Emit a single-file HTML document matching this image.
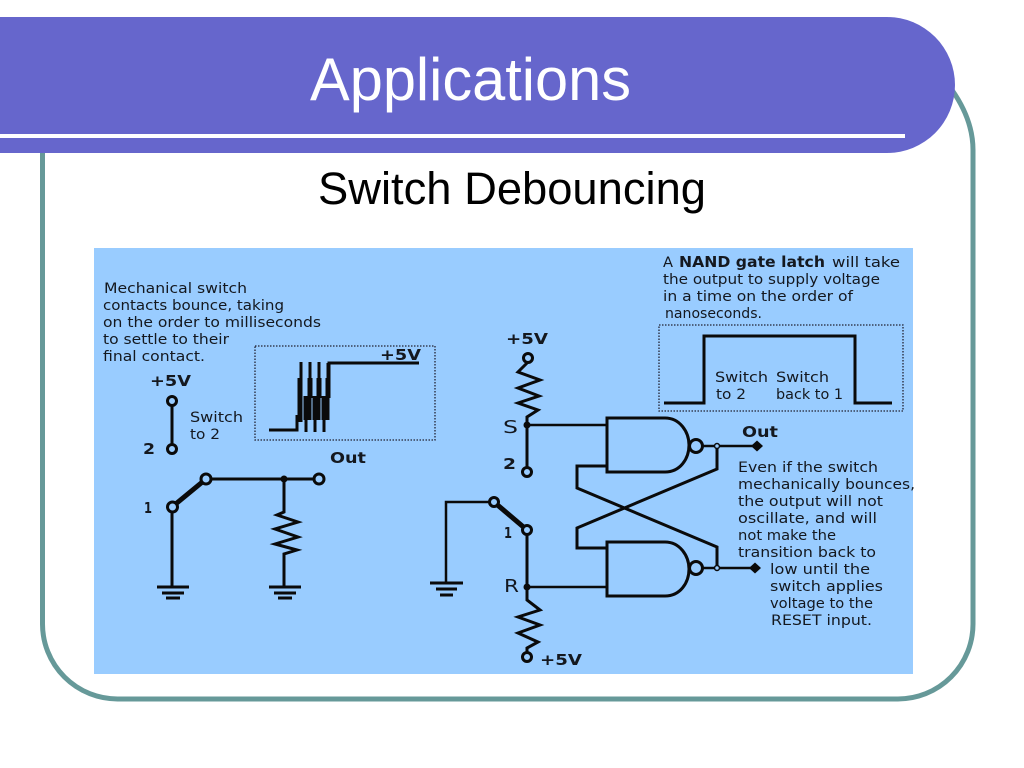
<!DOCTYPE html>
<html><head><meta charset="utf-8"><style>
html,body{margin:0;padding:0;background:#fff}
svg{display:block}
.t{font:14px "DejaVu Sans",sans-serif;fill:#14181f}
.b{font:bold 15px "DejaVu Sans",sans-serif;fill:#14181f}
.w{fill:none;stroke:#0a0a0a;stroke-width:2.5}
.k{fill:none;stroke:#0a0a0a;stroke-width:3}
.c{fill:#99ccff;stroke:#0a0a0a;stroke-width:3}
.d{fill:#0a0a0a}
.dot{fill:none;stroke:#223;stroke-width:1.3;stroke-dasharray:1.5 1.5}
</style></head><body>
<svg width="1024" height="768" viewBox="0 0 1024 768" xmlns="http://www.w3.org/2000/svg">
<rect width="1024" height="768" fill="#fff"/>
<path d="M42.5 140V624a75 75 0 0 0 75 75H898a75 75 0 0 0 75-75V150Q973 120 952 90" fill="none" stroke="#669999" stroke-width="5"/>
<path d="M0 17H887a68 68 0 0 1 0 136H0Z" fill="#6666cc"/>
<rect x="0" y="134" width="905" height="4" fill="#fff"/>
<text x="310" y="100" font-family="Liberation Sans,sans-serif" font-size="60" fill="#fff" textLength="321" lengthAdjust="spacingAndGlyphs">Applications</text>
<text x="318" y="204" font-family="Liberation Sans,sans-serif" font-size="45" fill="#000" textLength="388" lengthAdjust="spacingAndGlyphs">Switch Debouncing</text>
<rect x="94" y="248" width="819" height="426" fill="#99ccff"/>

<!-- left text -->
<g class="t">
<text x="104" y="293" textLength="143" lengthAdjust="spacingAndGlyphs">Mechanical switch</text>
<text x="103" y="310" textLength="181" lengthAdjust="spacingAndGlyphs">contacts bounce, taking</text>
<text x="103" y="327" textLength="218" lengthAdjust="spacingAndGlyphs">on the order to milliseconds</text>
<text x="103" y="344" textLength="126" lengthAdjust="spacingAndGlyphs">to settle to their</text>
<text x="103" y="361" textLength="102" lengthAdjust="spacingAndGlyphs">final contact.</text>
<text x="190" y="422" textLength="53" lengthAdjust="spacingAndGlyphs">Switch</text>
<text x="190" y="439" textLength="30" lengthAdjust="spacingAndGlyphs">to 2</text>
</g>
<g class="b">
<text x="150" y="386" textLength="41" lengthAdjust="spacingAndGlyphs">+5V</text>
<text x="143" y="454" textLength="12" lengthAdjust="spacingAndGlyphs">2</text>
<text x="380" y="360" textLength="41" lengthAdjust="spacingAndGlyphs">+5V</text>
<text x="330" y="463" textLength="36" lengthAdjust="spacingAndGlyphs">Out</text>
<text x="144" y="513" textLength="8" lengthAdjust="spacingAndGlyphs">1</text>
</g>

<!-- left switch to 2 -->
<path class="k" d="M172 401V449"/>
<circle class="c" cx="172" cy="401" r="4.5"/>
<circle class="c" cx="172" cy="449" r="4.5"/>

<!-- bounce box -->
<rect class="dot" x="255" y="346" width="180" height="94"/>
<path class="k" d="M269 430H297V415"/>
<path class="k" d="M419 363H329V390"/>
<path d="M301 362V420M310 362V420M319 362V420M328 363V420M306 396V432M315 396V432M324 396V432" fill="none" stroke="#0a0a0a" stroke-width="3"/>
<path d="M300 378V422M310 378V398M319 378V398M328 378V398M306 396V420M315 396V420M324 396V420" fill="none" stroke="#0a0a0a" stroke-width="5"/>

<!-- left circuit -->
<path class="k" d="M172 507V587M206 479H319M284 479V512L277 515 298 522 275 529 298 537 275 544 297 550 284 554V587"/>
<path d="M172 507L206 479" stroke="#0a0a0a" stroke-width="5" fill="none"/>
<circle class="c" cx="172.500" cy="507" r="5"/>
<circle class="c" cx="206" cy="479" r="5"/>
<circle class="c" cx="319" cy="479" r="5"/>
<circle class="d" cx="284" cy="479" r="3.500"/>
<path class="k" d="M157 587H189M162 593H184M166 598H180M269 587H301M274 593H296M278 598H292"/>

<!-- middle circuit -->
<g class="b">
<text x="506" y="344" textLength="42" lengthAdjust="spacingAndGlyphs">+5V</text>
<text x="503" y="469" textLength="13" lengthAdjust="spacingAndGlyphs">2</text>
<text x="504" y="538" textLength="8" lengthAdjust="spacingAndGlyphs">1</text>
<text x="540" y="665" textLength="42" lengthAdjust="spacingAndGlyphs">+5V</text>
<text x="742" y="437" textLength="36" lengthAdjust="spacingAndGlyphs">Out</text>
</g>
<text x="503" y="433" class="t" style="font-size:18px" textLength="15" lengthAdjust="spacingAndGlyphs">S</text>
<text x="504" y="592" class="t" style="font-size:18px" textLength="15" lengthAdjust="spacingAndGlyphs">R</text>

<path class="k" d="M527 358V363L518 372 540 380 518 388 539 396 518 403 538 410 527 417V472"/>
<path class="k" d="M527 530V600L540 610 518 617 540 625 518 633 538 642 527 648V657"/>
<path class="w" d="M527 425H607M527 587H607M494 502H446V583"/>
<path d="M494 502L527 530" stroke="#0a0a0a" stroke-width="5" fill="none"/>
<circle class="c" cx="528" cy="358" r="4.500"/>
<circle class="c" cx="527" cy="472" r="4.500"/>
<circle class="c" cx="494" cy="502" r="4.500"/>
<circle class="c" cx="527" cy="530" r="4.500"/>
<circle class="c" cx="527" cy="657" r="4.500"/>
<circle class="d" cx="527" cy="425" r="3.500"/>
<circle class="d" cx="527" cy="587" r="3.500"/>
<path class="k" d="M430 583H463M436 589H457M440 595H453"/>

<!-- gates -->
<path class="k" d="M607 418H665C680 418 689 432 689 445C689 459 680 472 665 472H607Z"/>
<path class="k" d="M607 542H665C680 542 689 556 689 569C689 583 680 596 665 596H607Z"/>
<path class="w" d="M703 446H757M703 568H755"/>
<path class="k" d="M717 446V469L577 528V548H607M607 466H577V488L717 547V568"/>
<circle class="c" cx="696" cy="446" r="6.500"/>
<circle class="c" cx="696" cy="568" r="6.500"/>
<circle cx="717" cy="446" r="2.500" fill="#99ccff" stroke="#0a0a0a" stroke-width="1.500"/>
<circle cx="717" cy="568" r="2.500" fill="#99ccff" stroke="#0a0a0a" stroke-width="1.500"/>
<path class="d" d="M751 446L757 440.500 763 446 757 451.500Z"/>
<path class="d" d="M749 568L755 562.500 761 568 755 573.500Z"/>

<!-- right top text -->
<g class="t">
<text x="663" y="267" textLength="10" lengthAdjust="spacingAndGlyphs">A</text>
<text x="832" y="267" textLength="68" lengthAdjust="spacingAndGlyphs">will take</text>
<text x="663" y="284" textLength="217" lengthAdjust="spacingAndGlyphs">the output to supply voltage</text>
<text x="663" y="301" textLength="190" lengthAdjust="spacingAndGlyphs">in a time on the order of</text>
<text x="665" y="318" textLength="97" lengthAdjust="spacingAndGlyphs">nanoseconds.</text>
<text x="715" y="382" textLength="53" lengthAdjust="spacingAndGlyphs">Switch</text>
<text x="776" y="382" textLength="53" lengthAdjust="spacingAndGlyphs">Switch</text>
<text x="716" y="399" textLength="30" lengthAdjust="spacingAndGlyphs">to 2</text>
<text x="776" y="399" textLength="67" lengthAdjust="spacingAndGlyphs">back to 1</text>
<text x="738" y="472" textLength="140" lengthAdjust="spacingAndGlyphs">Even if the switch</text>
<text x="738" y="489" textLength="177" lengthAdjust="spacingAndGlyphs">mechanically bounces,</text>
<text x="738" y="506" textLength="145" lengthAdjust="spacingAndGlyphs">the output will not</text>
<text x="738" y="523" textLength="139" lengthAdjust="spacingAndGlyphs">oscillate, and will</text>
<text x="738" y="540" textLength="98" lengthAdjust="spacingAndGlyphs">not make the</text>
<text x="738" y="557" textLength="138" lengthAdjust="spacingAndGlyphs">transition back to</text>
<text x="770" y="574" textLength="100" lengthAdjust="spacingAndGlyphs">low until the</text>
<text x="770" y="591" textLength="113" lengthAdjust="spacingAndGlyphs">switch applies</text>
<text x="770" y="608" textLength="103" lengthAdjust="spacingAndGlyphs">voltage to the</text>
<text x="771" y="625" textLength="101" lengthAdjust="spacingAndGlyphs">RESET input.</text>
</g>
<text x="679" y="267" class="b" textLength="146" lengthAdjust="spacingAndGlyphs">NAND gate latch</text>

<!-- pulse box -->
<rect class="dot" x="659" y="325" width="244" height="86"/>
<path class="k" d="M664 403H704V336H855V403H892"/>
</svg>
</body></html>
